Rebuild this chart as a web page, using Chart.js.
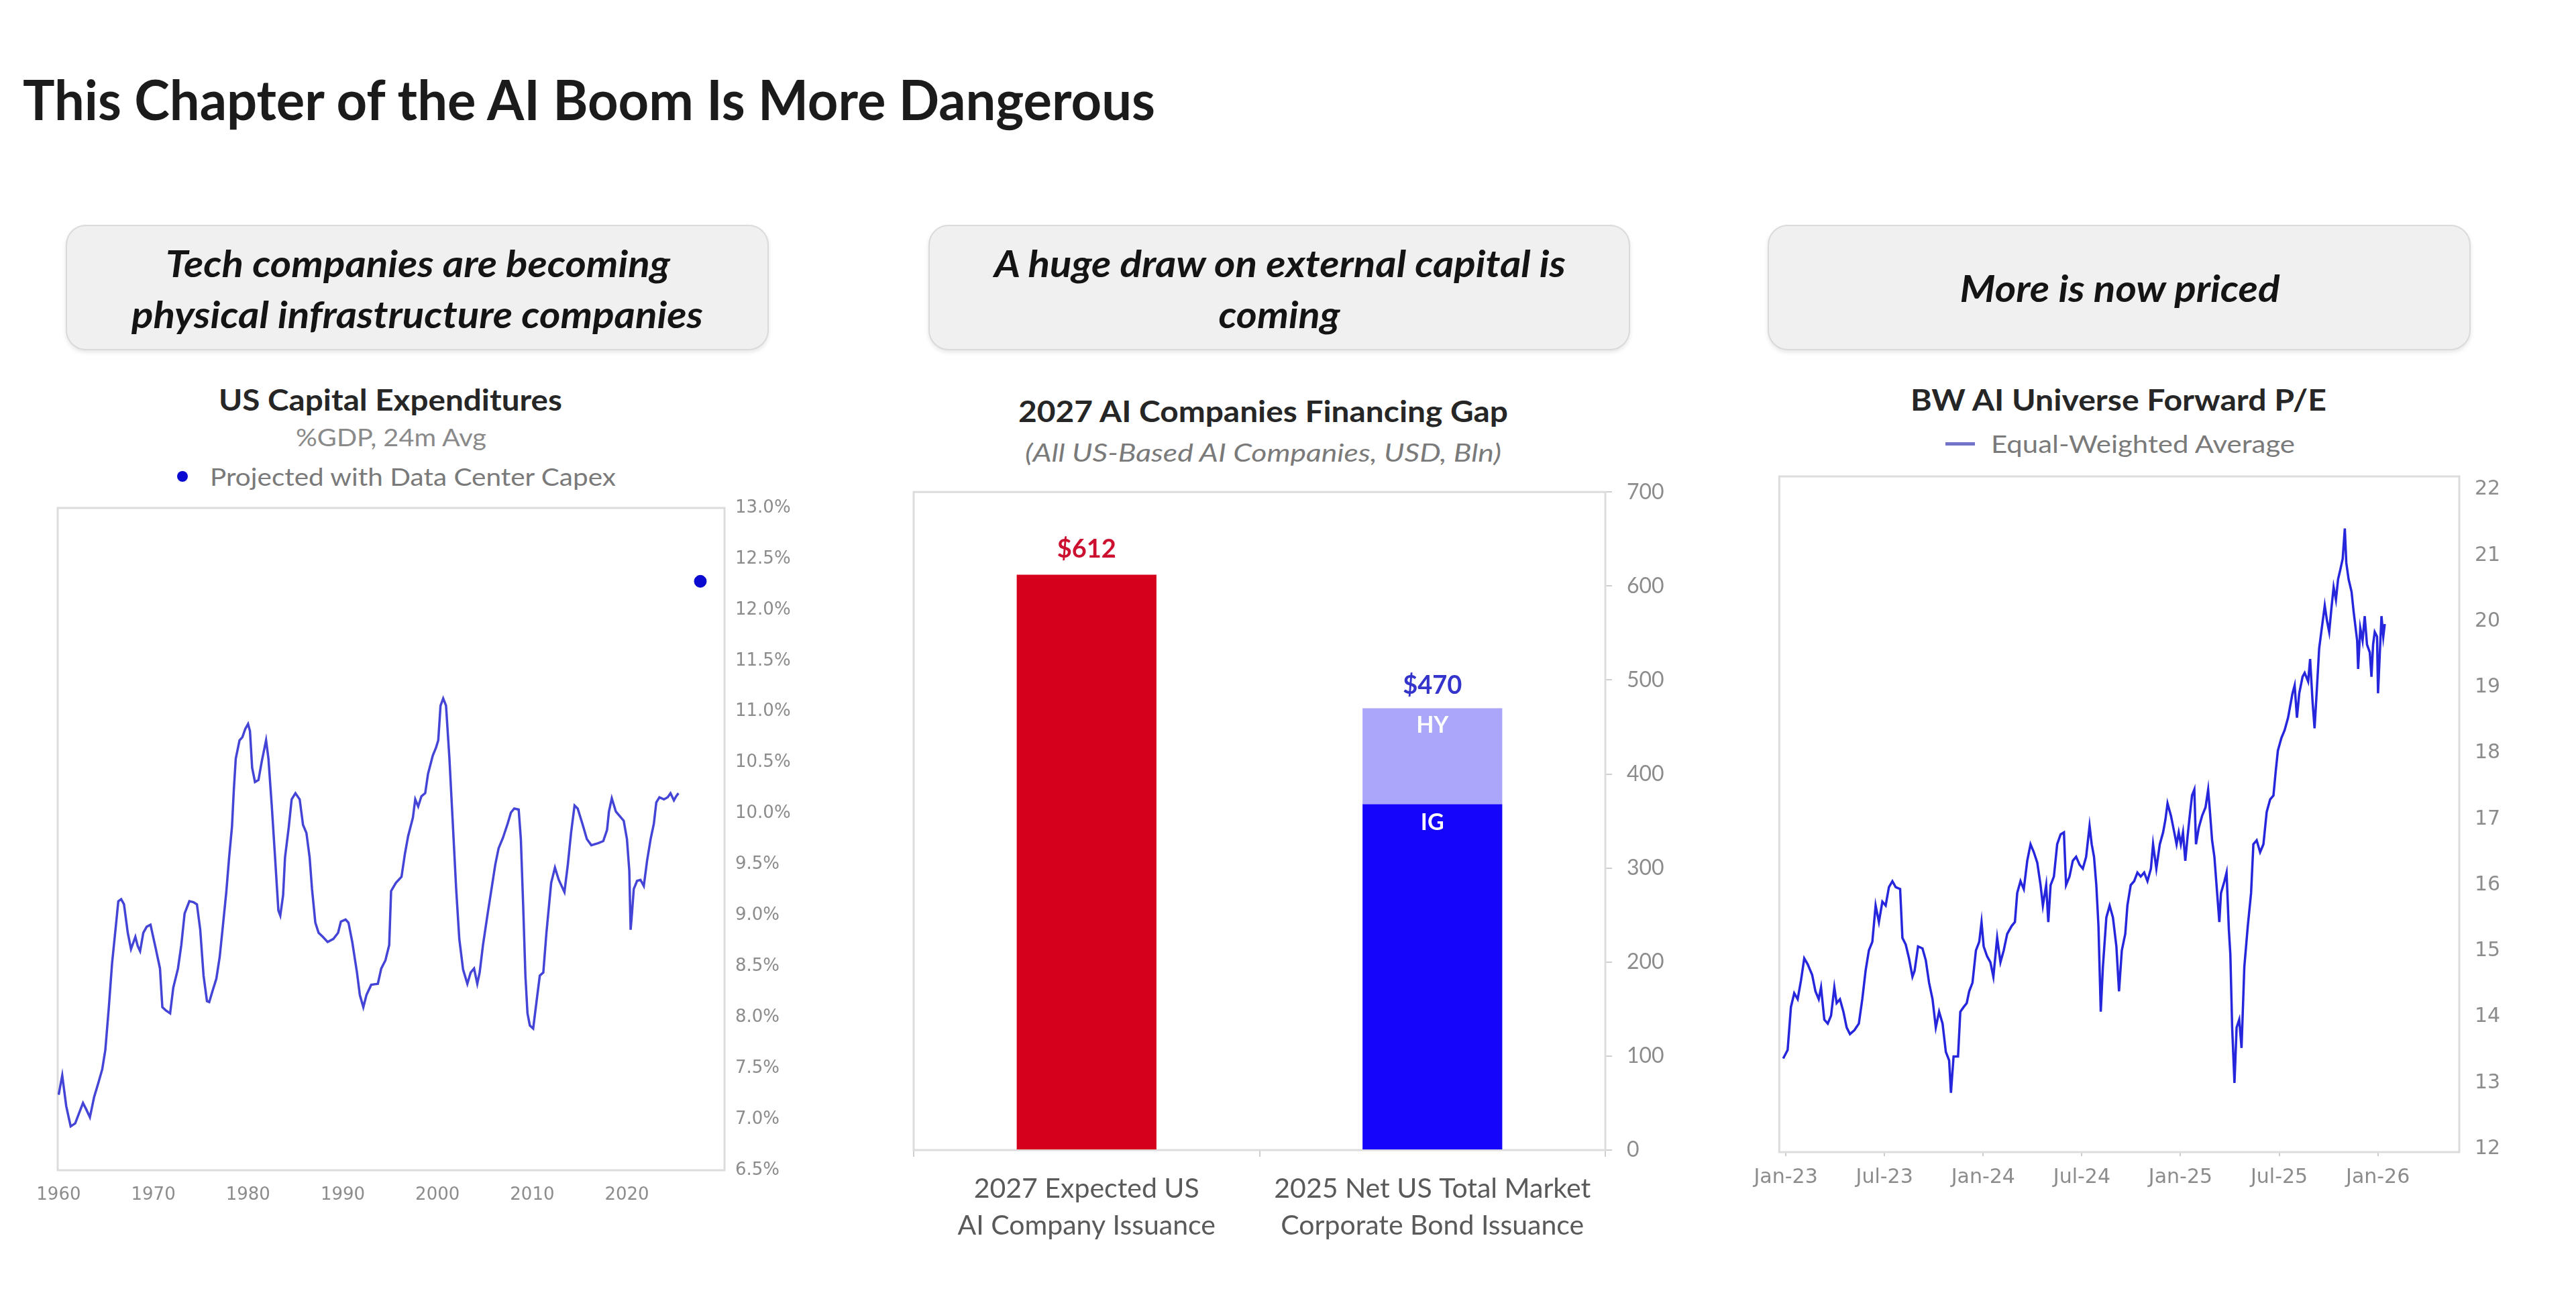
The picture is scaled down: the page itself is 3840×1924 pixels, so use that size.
<!DOCTYPE html>
<html><head><meta charset="utf-8">
<script src="https://cdn.jsdelivr.net/npm/chart.js@4.4.1/dist/chart.umd.min.js"></script>
<style>
html,body{margin:0;padding:0;background:#fff;}
body{width:3840px;height:1924px;position:relative;overflow:hidden;font-family:Lato,'Open Sans',sans-serif;}
.t{position:absolute;white-space:nowrap;line-height:1;display:inline-block;}
.box{position:absolute;background:#f0f0f0;border:2px solid #dadada;border-radius:30px;box-sizing:border-box;box-shadow:0 3px 6px rgba(0,0,0,0.10);}
canvas{position:absolute;}
.h1{font-weight:700;font-size:82px;color:#1b1b1b;}
.bx{font-weight:700;font-style:italic;font-size:56px;color:#141414;}
.ct{font-weight:700;font-size:43px;color:#262626;}
.cs{font-weight:400;font-size:36px;color:#8a8a8a;}
.csi{font-weight:400;font-style:italic;font-size:37px;color:#7a7a7a;}
</style></head><body>

<div class="t h1" data-cx="878" data-cy="147" data-w="1688">This Chapter of the AI Boom Is More Dangerous</div>

<div class="box" style="left:98px;top:335px;width:1048px;height:187px;"></div>
<div class="box" style="left:1384px;top:335px;width:1046px;height:187px;"></div>
<div class="box" style="left:2635px;top:335px;width:1048px;height:187px;"></div>

<div class="t bx" data-cx="623" data-cy="392" data-w="752">Tech companies are becoming</div>
<div class="t bx" data-cx="622" data-cy="468" data-w="852">physical infrastructure companies</div>
<div class="t bx" data-cx="1908" data-cy="392" data-w="852">A huge draw on external capital is</div>
<div class="t bx" data-cx="1907" data-cy="468" data-w="181">coming</div>
<div class="t bx" data-cx="3160" data-cy="429" data-w="477">More is now priced</div>

<div class="t ct" data-cx="582" data-cy="595" data-w="512">US Capital Expenditures</div>
<div class="t cs" data-cx="583" data-cy="651" data-w="284">%GDP, 24m Avg</div>
<div style="position:absolute;left:264px;top:702px;width:16px;height:16px;border-radius:50%;background:#0a0ad0;"></div>
<div class="t cs" style="color:#7a7a7a" data-x="313" data-cy="710" data-w="605">Projected with Data Center Capex</div>

<div class="t ct" data-cx="1883" data-cy="612" data-w="730">2027 AI Companies Financing Gap</div>
<div class="t csi" data-cx="1883" data-cy="673" data-w="710">(All US-Based AI Companies, USD, Bln)</div>

<div class="t ct" data-cx="3158" data-cy="595" data-w="620">BW AI Universe Forward P/E</div>
<div style="position:absolute;left:2900px;top:659px;width:44px;height:5px;background:#7373c9;"></div>
<div class="t cs" style="color:#7a7a7a" data-x="2968" data-cy="661" data-w="453">Equal-Weighted Average</div>

<canvas id="c1" width="1240" height="1123" style="left:20px;top:717px;"></canvas>
<canvas id="c2" width="1231" height="1182" style="left:1302px;top:692px;"></canvas>
<canvas id="c3" width="1176" height="1117" style="left:2600px;top:670px;"></canvas>

<script>
// ---------- Chart 1: US Capital Expenditures (%GDP, 24m avg) ----------
const capexYears = [1960.0,1960.38,1960.8,1961.27,1961.75,1962.2,1962.57,1962.9,1963.3,1963.75,1964.2,1964.6,1964.93,1965.3,1965.64,1966.0,1966.3,1966.6,1966.9,1967.3,1967.64,1968.1,1968.35,1968.6,1968.94,1969.3,1969.7,1970.24,1970.7,1970.95,1971.3,1971.77,1972.1,1972.6,1972.95,1973.3,1973.8,1974.25,1974.6,1974.95,1975.3,1975.66,1975.9,1976.25,1976.65,1977.0,1977.3,1977.7,1978.0,1978.3,1978.5,1978.7,1979.1,1979.4,1979.7,1980.0,1980.2,1980.43,1980.73,1981.1,1981.44,1981.9,1982.15,1982.5,1982.85,1983.2,1983.4,1983.7,1983.9,1984.3,1984.6,1985.0,1985.45,1985.8,1986.16,1986.5,1986.75,1987.1,1987.45,1987.9,1988.4,1989.0,1989.5,1989.8,1990.3,1990.6,1991.0,1991.5,1991.8,1992.17,1992.5,1993.0,1993.7,1994.06,1994.5,1994.9,1995.1,1995.6,1996.2,1996.55,1996.9,1997.4,1997.65,1997.96,1998.3,1998.7,1999.0,1999.5,1999.85,2000.08,2000.32,2000.6,2000.9,2001.26,2001.6,2001.97,2002.3,2002.7,2003.15,2003.5,2003.86,2004.2,2004.45,2004.8,2005.3,2005.6,2006.1,2006.45,2006.9,2007.4,2007.75,2008.1,2008.57,2008.8,2009.05,2009.28,2009.5,2009.75,2010.1,2010.46,2010.8,2011.17,2011.5,2012.0,2012.4,2012.8,2013.4,2013.76,2014.1,2014.47,2014.8,2015.3,2015.77,2016.24,2016.95,2017.5,2017.9,2018.1,2018.4,2018.83,2019.2,2019.66,2020.0,2020.25,2020.39,2020.53,2020.72,2021.07,2021.43,2021.78,2022.13,2022.5,2022.84,2023.1,2023.43,2023.9,2024.3,2024.6,2024.96,2025.2,2025.44];
const capexValues = [7.24,7.43,7.13,6.93,6.96,7.07,7.16,7.10,7.02,7.22,7.36,7.49,7.68,8.10,8.53,8.86,9.14,9.16,9.11,8.83,8.67,8.79,8.70,8.65,8.83,8.89,8.91,8.68,8.48,8.10,8.07,8.04,8.29,8.48,8.71,9.02,9.14,9.13,9.11,8.86,8.41,8.16,8.15,8.26,8.38,8.59,8.86,9.23,9.57,9.87,10.24,10.54,10.72,10.75,10.83,10.88,10.81,10.45,10.31,10.33,10.51,10.72,10.54,10.08,9.57,9.05,9.00,9.20,9.57,9.87,10.14,10.20,10.14,9.89,9.81,9.57,9.26,8.93,8.83,8.79,8.74,8.77,8.83,8.94,8.96,8.93,8.74,8.44,8.22,8.10,8.22,8.32,8.33,8.48,8.56,8.71,9.24,9.32,9.38,9.60,9.78,9.96,10.14,10.07,10.17,10.20,10.39,10.57,10.65,10.72,11.06,11.13,11.06,10.54,9.93,9.26,8.77,8.47,8.33,8.44,8.48,8.33,8.44,8.71,9.02,9.20,9.50,9.66,9.76,9.90,10.01,10.05,10.04,9.75,9.08,8.41,8.04,7.92,7.89,8.16,8.41,8.44,8.83,9.32,9.47,9.35,9.23,9.50,9.81,10.08,10.05,9.90,9.75,9.69,9.71,9.73,9.84,10.02,10.15,10.02,9.98,9.93,9.75,9.44,8.86,9.02,9.26,9.34,9.35,9.29,9.54,9.75,9.90,10.11,10.16,10.14,10.16,10.20,10.13,10.17,10.20];
const projectedYears = [2027.75];
const projectedValues = [12.28];
const capexXTicks = [1960,1970,1980,1990,2000,2010,2020];
const capexYTicks = [6.5,7.0,7.5,8.0,8.5,9.0,9.5,10.0,10.5,11.0,11.5,12.0,12.5,13.0];

// ---------- Chart 2: 2027 AI Companies Financing Gap ----------
const gapCategories = [['2027 Expected US','AI Company Issuance'],['2025 Net US Total Market','Corporate Bond Issuance']];
const issuanceValues = [612, null];
const igValues = [null, 368];
const hyValues = [null, 102];
const gapYTicks = [0,100,200,300,400,500,600,700];

// ---------- Chart 3: BW AI Universe Forward P/E (x = months since Jan-2023) ----------
const peMonths = [-0.16,0.11,0.31,0.51,0.72,0.92,1.12,1.33,1.6,1.8,2.0,2.14,2.34,2.55,2.75,2.95,3.09,3.29,3.5,3.7,3.9,4.17,4.44,4.65,4.85,5.05,5.26,5.46,5.66,5.87,6.07,6.27,6.48,6.68,6.95,7.09,7.29,7.49,7.7,7.83,8.04,8.31,8.51,8.71,8.92,9.12,9.32,9.53,9.73,9.93,10.04,10.2,10.47,10.61,10.81,11.0,11.15,11.35,11.56,11.76,11.9,12.03,12.24,12.44,12.62,12.85,13.05,13.25,13.46,13.73,13.93,14.07,14.27,14.47,14.68,14.88,15.08,15.29,15.49,15.63,15.83,15.96,16.1,16.3,16.5,16.71,16.91,17.04,17.25,17.45,17.65,17.86,18.06,18.26,18.47,18.6,18.74,18.88,19.01,19.15,19.28,19.49,19.69,19.89,20.1,20.26,20.43,20.64,20.77,20.97,21.18,21.38,21.58,21.79,21.99,22.2,22.33,22.53,22.74,22.94,23.08,23.21,23.42,23.62,23.76,23.89,24.02,24.15,24.29,24.43,24.56,24.7,24.84,24.94,25.11,25.31,25.52,25.68,25.79,25.92,26.06,26.19,26.36,26.46,26.67,26.8,26.94,27.03,27.14,27.28,27.41,27.57,27.71,27.88,28.09,28.29,28.43,28.63,28.84,29.04,29.24,29.45,29.65,29.79,29.92,30.13,30.33,30.54,30.67,30.81,30.94,31.08,31.22,31.42,31.55,31.76,31.88,32.03,32.15,32.29,32.43,32.56,32.77,32.9,33.04,33.18,33.31,33.45,33.58,33.72,33.86,33.99,34.08,34.22,34.4,34.53,34.74,34.8,34.93,35.07,35.2,35.34,35.51,35.61,35.71,35.81,35.95,36.01,36.12,36.22,36.33,36.42];
const peValues = [13.37,13.50,14.15,14.36,14.27,14.55,14.89,14.80,14.64,14.39,14.27,14.45,13.96,13.90,14.02,14.45,14.21,14.27,14.08,13.84,13.74,13.80,13.90,14.27,14.70,15.01,15.14,15.69,15.44,15.75,15.69,15.97,16.06,15.97,15.94,15.20,15.10,14.89,14.61,14.70,15.07,15.04,14.86,14.52,14.27,13.84,14.08,13.90,13.47,13.34,12.85,13.40,13.40,14.08,14.15,14.21,14.39,14.52,15.01,15.14,15.44,15.07,14.92,14.83,14.61,15.20,14.83,15.01,15.26,15.38,15.44,15.88,16.06,15.94,16.37,16.62,16.50,16.34,16.00,15.69,16.00,15.44,16.00,16.13,16.62,16.77,16.80,16.00,16.13,16.37,16.43,16.31,16.25,16.43,16.90,16.62,16.43,16.00,15.38,14.08,14.76,15.51,15.69,15.51,15.07,14.39,15.01,15.26,15.69,16.00,16.06,16.19,16.13,16.19,16.06,16.25,16.62,16.25,16.62,16.80,16.99,17.24,17.05,16.80,16.62,16.80,16.62,16.80,16.37,16.74,17.05,17.36,17.45,16.62,16.87,17.05,17.18,17.45,17.11,16.68,16.43,16.00,15.44,15.88,16.06,16.19,15.32,14.95,13.84,13.00,13.84,13.96,13.53,14.76,15.38,15.88,16.62,16.68,16.50,16.62,17.11,17.30,17.36,17.73,18.04,18.23,18.35,18.54,18.72,18.91,19.03,18.54,18.91,19.16,19.22,19.09,19.43,18.78,18.38,18.97,19.59,19.84,20.24,20.02,19.84,20.21,20.52,20.33,20.64,20.79,20.95,21.41,20.89,20.64,20.45,20.14,19.71,19.28,19.90,19.71,20.08,19.65,19.53,19.16,19.65,19.84,19.77,18.91,19.53,20.08,19.77,19.96];
const peXTicks = [0,6,12,18,24,30,36];
const peXTickLabels = ['Jan-23','Jul-23','Jan-24','Jul-24','Jan-25','Jul-25','Jan-26'];
const peYTicks = [12,13,14,15,16,17,18,19,20,21,22];

// ---------- helpers ----------
const framePlugin = {
  id:'frame',
  beforeDatasetsDraw(chart){
    const a = chart.chartArea, ctx = chart.ctx;
    ctx.save(); ctx.strokeStyle = '#dcdcdc'; ctx.lineWidth = 3;
    ctx.strokeRect(a.left, a.top, a.right - a.left, a.bottom - a.top);
    ctx.restore();
  }
};
const tickFont1 = {family:'DejaVu Sans', size:26};
const base = {responsive:false, animation:false, devicePixelRatio:1,
  plugins:{legend:{display:false}, tooltip:{enabled:false}, title:{display:false}}};

// Chart 1
new Chart(document.getElementById('c1'), {
  type:'scatter',
  data:{datasets:[
    {type:'line', data:capexYears.map((x,i)=>({x:x, y:capexValues[i]})), borderColor:'#4444d6', borderWidth:3.5, pointRadius:0, tension:0, fill:false},
    {type:'scatter', data:projectedYears.map((x,i)=>({x:x, y:projectedValues[i]})), backgroundColor:'#0a0ad0', borderColor:'#0a0ad0', pointRadius:9}
  ]},
  options:Object.assign({}, base, {
    layout:{padding:{left:66, top:40, right:0, bottom:0}},
    scales:{
      x:{type:'linear', position:'bottom', min:1959.9, max:2030.3,
        grid:{display:false}, border:{display:false},
        afterBuildTicks:s=>{ s.ticks = capexXTicks.map(v=>({value:v})); },
        afterFit:s=>{ s.height = 96; },
        ticks:{font:tickFont1, color:'#8c8c8c', padding:14, maxRotation:0, autoSkip:false, callback:v=>String(v)}},
      y:{type:'linear', position:'right', min:6.5, max:13,
        grid:{display:false}, border:{display:false},
        afterBuildTicks:s=>{ s.ticks = capexYTicks.map(v=>({value:v})); },
        afterFit:s=>{ s.width = 180; },
        ticks:{font:tickFont1, color:'#8c8c8c', padding:8, autoSkip:false, callback:v=>Number(v).toFixed(1)+'%'}}
    }
  }),
  plugins:[framePlugin]
});

// Chart 2
const barLabelPlugin = {
  id:'barLabels',
  afterDatasetsDraw(chart){
    const ctx = chart.ctx; ctx.save();
    ctx.textAlign='center'; ctx.textBaseline='middle';
    const r = chart.getDatasetMeta(0).data[0];
    const ig = chart.getDatasetMeta(1).data[1];
    const hy = chart.getDatasetMeta(2).data[1];
    ctx.font = 'bold 38px Lato';
    ctx.fillStyle = '#cc1030'; ctx.fillText('$' + issuanceValues[0], r.x, r.y - 38);
    ctx.fillStyle = '#3434cc'; ctx.fillText('$' + (igValues[1] + hyValues[1]), hy.x, hy.y - 34);
    ctx.font = 'bold 34px Lato'; ctx.fillStyle = '#ffffff';
    ctx.fillText('HY', hy.x, hy.y + 26);
    ctx.fillText('IG', ig.x, ig.y + 28);
    ctx.restore();
  }
};
new Chart(document.getElementById('c2'), {
  type:'bar',
  data:{labels:gapCategories, datasets:[
    {label:'2027 Expected', data:issuanceValues, backgroundColor:'#d50019', barPercentage:0.404, categoryPercentage:1},
    {label:'IG', data:igValues, backgroundColor:'#1505fb', barPercentage:0.404, categoryPercentage:1},
    {label:'HY', data:hyValues, backgroundColor:'#aaa6fa', barPercentage:0.404, categoryPercentage:1}
  ]},
  options:Object.assign({}, base, {
    layout:{padding:{left:60, top:40, right:0, bottom:0}},
    scales:{
      x:{stacked:true, position:'bottom',
        grid:{display:true, offset:true, drawOnChartArea:false, drawTicks:true, tickLength:10, color:'#cfcfcf', lineWidth:2},
        border:{display:false},
        afterFit:s=>{ s.height = 160; },
        ticks:{font:{family:'Lato', size:41, lineHeight:1.33}, color:'#5a5a5a', padding:21, maxRotation:0, autoSkip:false}},
      y:{stacked:true, position:'right', min:0, max:700,
        grid:{display:true, drawOnChartArea:false, drawTicks:true, tickLength:10, color:'#cfcfcf', lineWidth:2},
        border:{display:false},
        afterBuildTicks:s=>{ s.ticks = gapYTicks.map(v=>({value:v})); },
        afterFit:s=>{ s.width = 140; },
        ticks:{font:{family:'Lato', size:32}, color:'#8c8c8c', padding:22, autoSkip:false}}
    }
  }),
  plugins:[framePlugin, barLabelPlugin]
});

// Chart 3
new Chart(document.getElementById('c3'), {
  type:'line',
  data:{datasets:[
    {data:peMonths.map((x,i)=>({x:x, y:peValues[i]})), borderColor:'#2626dc', borderWidth:3.5, pointRadius:0, tension:0, fill:false}
  ]},
  options:Object.assign({}, base, {
    layout:{padding:{left:50, top:40, right:0, bottom:0}},
    scales:{
      x:{type:'linear', position:'bottom', min:-0.4, max:40.95,
        grid:{display:true, drawOnChartArea:false, drawTicks:true, tickLength:6, color:'#cccccc', lineWidth:2},
        border:{display:false},
        afterBuildTicks:s=>{ s.ticks = peXTicks.map(v=>({value:v})); },
        afterFit:s=>{ s.height = 70; },
        ticks:{font:{family:'DejaVu Sans', size:30}, color:'#8c8c8c', padding:14, maxRotation:0, autoSkip:false,
          callback:v=>peXTickLabels[peXTicks.indexOf(v)]}},
      y:{type:'linear', position:'right', min:11.95, max:22.2,
        grid:{display:false}, border:{display:false},
        afterBuildTicks:s=>{ s.ticks = peYTicks.map(v=>({value:v})); },
        afterFit:s=>{ s.width = 110; },
        ticks:{font:{family:'DejaVu Sans', size:30}, color:'#8c8c8c', padding:15, autoSkip:false}}
    }
  }),
  plugins:[framePlugin]
});

// ---------- fit HTML texts to reference widths ----------
function fitTexts(){
  document.querySelectorAll('.t').forEach(el=>{
    el.style.transform = 'none';
    const nat = el.getBoundingClientRect().width;
    const sx = (+el.dataset.w) / nat;
    el.style.top = el.dataset.cy + 'px';
    if (el.dataset.cx !== undefined) {
      el.style.left = el.dataset.cx + 'px';
      el.style.transformOrigin = 'center center';
      el.style.transform = 'translate(-50%,-50%) scaleX(' + sx + ')';
    } else {
      el.style.left = el.dataset.x + 'px';
      el.style.transformOrigin = 'left center';
      el.style.transform = 'translateY(-50%) scaleX(' + sx + ')';
    }
  });
}
fitTexts();
if (document.fonts && document.fonts.ready) document.fonts.ready.then(fitTexts);
</script>
</body></html>
